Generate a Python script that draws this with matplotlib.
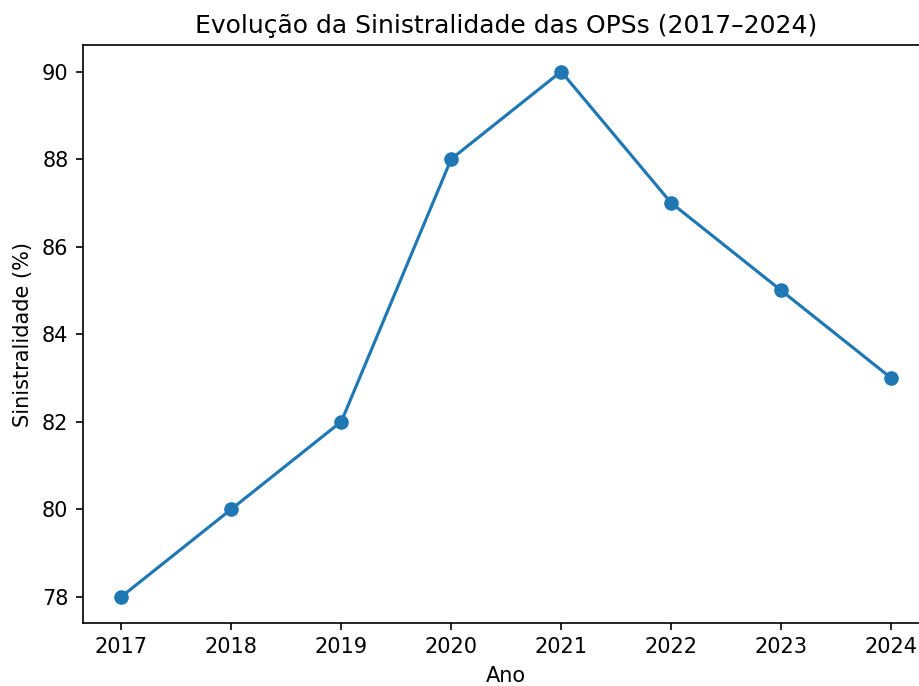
import matplotlib
matplotlib.use("Agg")
import matplotlib.pyplot as plt

anos = [2017, 2018, 2019, 2020, 2021, 2022, 2023, 2024]
sinistralidade = [78, 80, 82, 88, 90, 87, 85, 83]

dpi = 150
fig = plt.figure(figsize=(919 / dpi, 686 / dpi), dpi=dpi)
# axes run slightly past the right edge, as in the cropped original
ax = fig.add_axes([0.0903, 0.092, 0.921, 0.842])

ax.plot(anos, sinistralidade, marker="o")
ax.set_title("Evolução da Sinistralidade das OPSs (2017–2024)")
ax.set_xlabel("Ano")
ax.set_ylabel("Sinistralidade (%)")
ax.set_xticks(anos)

fig.savefig("out.png", dpi=dpi)
